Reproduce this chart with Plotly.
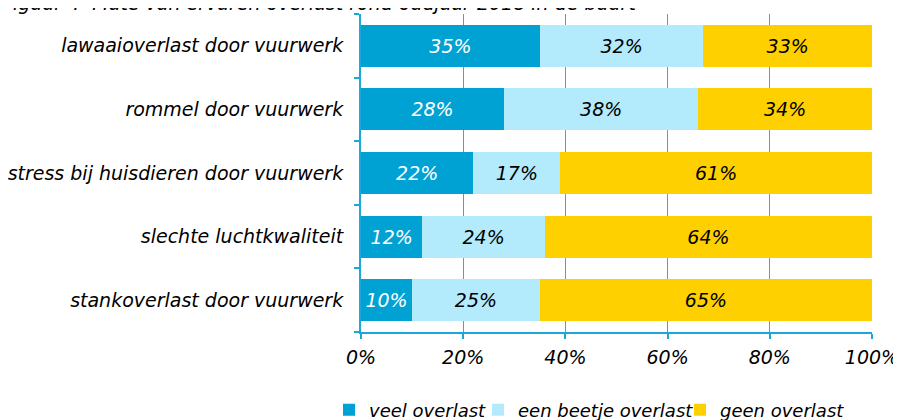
import plotly.graph_objects as go

categories = [
    "lawaaioverlast door vuurwerk",
    "rommel door vuurwerk",
    "stress bij huisdieren door vuurwerk",
    "slechte luchtkwaliteit",
    "stankoverlast door vuurwerk",
]
veel = [35, 28, 22, 12, 10]
beetje = [32, 38, 17, 24, 25]
geen = [33, 34, 61, 64, 65]
series_names = ["veel overlast", "een beetje overlast", "geen overlast"]
x_ticks = [0, 20, 40, 60, 80, 100]
x_ticklabels = ["0%", "20%", "40%", "60%", "80%", "100%"]
title_text = "Figuur 4  Mate van ervaren overlast rond oudjaar 2018 in de buurt"

FONT = "DejaVu Sans"
FS = 19
colors = ["#00A2D3", "#B4EBFC", "#FFD000"]
text_colors = ["white", "black", "black"]
AXIS = "#1AA7DA"

# plot area in figure pixels (page body adds ~8px offset)
L, R, T, B = 353, 37, 6, 96
PW, PH = 901 - L - R, 420 - T - B

legend_ids = ["legend", "legend2", "legend3"]
legend_text_x = [361, 510, 712]  # screen px where legend texts start

fig = go.Figure()
for name, vals, col, tc, lg in zip(series_names, [veel, beetje, geen], colors, text_colors, legend_ids):
    fig.add_trace(go.Bar(
        y=categories, x=vals, name=name, orientation="h", legend=lg,
        marker=dict(color=col, line=dict(width=0)),
        text=[f"{v}%" for v in vals], textposition="inside",
        insidetextanchor="middle", constraintext="none",
        textfont=dict(family=FONT, size=FS, color=tc, style="italic"),
    ))

legend_y = -(402 - (T + PH)) / PH
legends = {}
for lg, tx in zip(legend_ids, legend_text_x):
    fx = tx - 8 - 32  # figure px of legend left
    legends[lg] = dict(orientation="h", x=(fx - L) / PW, xanchor="left",
                       y=legend_y, yanchor="middle",
                       font=dict(family=FONT, size=18, style="italic"),
                       itemwidth=30, bgcolor="rgba(0,0,0,0)")

fig.update_layout(
    barmode="stack", bargap=0.34,
    width=901, height=420,
    margin=dict(l=L, r=R, t=T, b=B, autoexpand=False),
    paper_bgcolor="white", plot_bgcolor="white",
    font=dict(family=FONT, size=FS, color="black", style="italic"),
    showlegend=True,
    xaxis=dict(range=[0, 100], tickvals=x_ticks, ticktext=x_ticklabels,
               showgrid=True, gridcolor="#2EADE0", gridwidth=1,
               showline=True, linecolor=AXIS, linewidth=2,
               ticks="outside", ticklen=5, tickcolor=AXIS, tickwidth=2,
               ticklabelstandoff=2, automargin=False,
               tickfont=dict(family=FONT, size=FS, style="italic"),
               zeroline=False, fixedrange=True),
    yaxis=dict(categoryorder="array", categoryarray=categories[::-1],
               showline=True, linecolor=AXIS, linewidth=2,
               ticks="outside", tickson="boundaries", ticklen=5, tickcolor=AXIS, tickwidth=2,
               ticklabelstandoff=12, automargin=False,
               tickfont=dict(family=FONT, size=FS, style="italic"),
               showgrid=False),
    **legends,
)

fig.add_annotation(text=title_text, xref="paper", yref="paper",
                   x=(-8 - L) / PW, xanchor="left", y=1 + (T - 8) / PH, yanchor="bottom",
                   showarrow=False,
                   font=dict(family=FONT, size=FS, color="black", style="italic"))

fig.write_html("out.html")
